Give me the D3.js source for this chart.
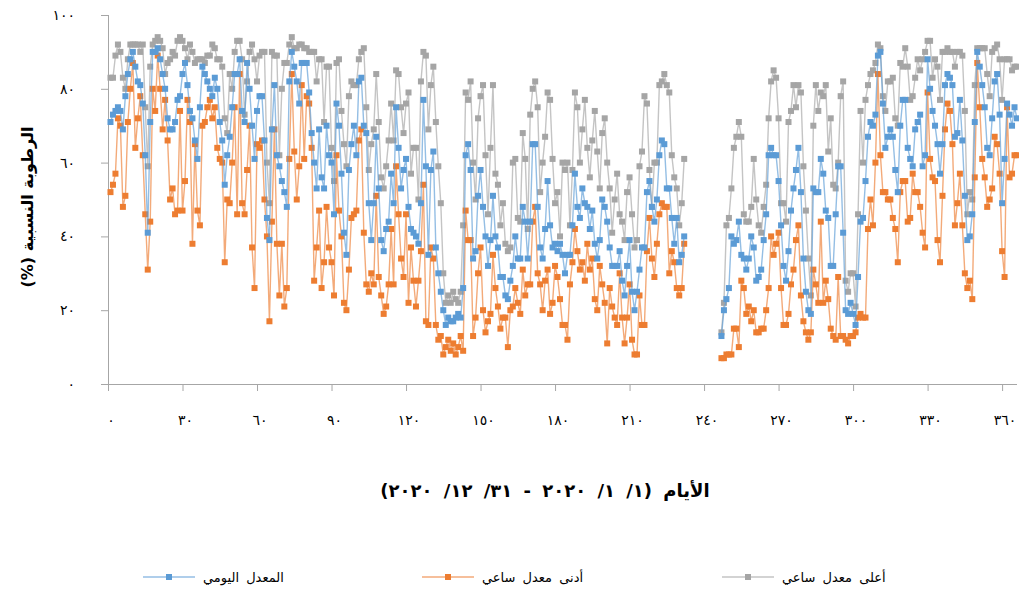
<!DOCTYPE html>
<html>
<head>
<meta charset="utf-8">
<script src="https://cdn.jsdelivr.net/npm/d3@7"></script>
<style>
  body { margin: 0; background: #fff; }
  text { font-family: "DejaVu Sans", sans-serif; fill: #000; }
</style>
</head>
<body>
<svg id="chart" width="1019" height="595"></svg>
<script>
// Day of year, 1 January 2020 = day 1
const days = d3.range(1, 367);

// Daily mean relative humidity (%)
const dailyMean = [
  71, 73, 74, 75, 74, 69, 78, 84, 88, 90,
  86, 82, 81, 76, 62, 41, 71, 90, 90, 91,
  88, 84, 80, 72, 69, 69, 71, 77, 78, 84,
  87, 81, 74, 72, 66, 61, 75, 86, 84, 82,
  80, 78, 83, 80, 71, 66, 54, 62, 67, 75,
  84, 84, 88, 74, 71, 87, 80, 70, 61, 74,
  78, 78, 66, 45, 39, 69, 81, 62, 59, 55,
  52, 48, 82, 90, 86, 82, 76, 87, 87, 87,
  79, 68, 60, 53, 69, 56, 53, 70, 62, 60,
  46, 76, 70, 57, 41, 35, 58, 65, 70, 62,
  82, 83, 70, 68, 49, 39, 49, 67, 53, 39,
  36, 42, 44, 57, 49, 75, 64, 53, 58, 61,
  48, 42, 41, 40, 38, 49, 77, 59, 35, 58,
  63, 37, 30, 25, 20, 16, 18, 17, 17, 18,
  19, 18, 26, 62, 65, 58, 34, 36, 51, 58,
  48, 40, 32, 39, 51, 40, 37, 29, 29, 24,
  23, 28, 32, 40, 34, 34, 48, 44, 34, 44,
  65, 65, 48, 37, 34, 42, 55, 43, 37, 38,
  36, 38, 35, 30, 35, 35, 43, 57, 48, 45,
  53, 49, 48, 42, 47, 38, 34, 39, 50, 48,
  44, 37, 32, 32, 32, 36, 28, 24, 32, 39,
  25, 20, 25, 31, 37, 37, 52, 55, 48, 44,
  50, 62, 66, 65, 53, 53, 45, 38, 45, 33,
  35, 40,
  null, null, null, null, null, null, null, null, null, null, null, null, null, null,
  13, 20, 23, 26,
  40, 38, 39, 44, 35, 34, 31, 34, 40, 37,
  28, 29, 31, 39, 46, 62, 64, 62, 62, 55,
  43, 32, 28, 36, 47, 53, 58, 64, 52, 34,
  25, 20, 19, 53, 52, 52, 61, 57, 47, 45,
  32, 32, 46, 59, 59, 41, 20, 19, 22, 19,
  16, 29, 44, 45, 55, 67, 71, 70, 73, 89,
  90, 76, 64, 67, 69, 67, 58, 52, 70, 77,
  77, 64, 61, 59, 69, 71, 73, 59, 62, 88,
  80, 74, 70, 65, 57, 65, 81, 84, 83, 81,
  67, 68, 77, 66, 51, 39, 40, 46, 71, 90,
  86, 81, 75, 64, 62, 72, 82, 84, 73, 49,
  61, 76, 73, 70, 75, 72
];

// Lowest hourly value of each day (%)
const hourlyMin = [
  52, 54, 57, 72, 70, 48, 51, 71, 80, 87,
  64, 72, 78, 62, 46, 31, 44, 80, 74, 89,
  80, 69, 77, 66, 50, 53, 46, 47, 74, 47,
  55, 77, 71, 38, 65, 47, 43, 70, 71, 75,
  77, 72, 75, 64, 61, 60, 33, 50, 49, 60,
  75, 46, 84, 49, 46, 58, 70, 37, 26, 65,
  64, 66, 50, 40, 17, 44, 69, 38, 24, 38,
  21, 26, 61, 84, 63, 50, 59, 81, 61, 78,
  76, 64, 28, 37, 47, 26, 33, 48, 37, 33,
  24, 62, 47, 40, 22, 20, 31, 45, 46, 47,
  66, 69, 41, 27, 25, 30, 27, 51, 29, 24,
  19, 21, 27, 42, 27, 59, 46, 34, 29, 46,
  22, 37, 28, 21, 28, 36, 54, 17, 16, 37,
  34, 16, 12, 13, 8, 10, 12, 9, 11, 8,
  10, 13, 9, 47, 39, 39, 13, 18, 30, 37,
  20, 14, 17, 19, 35, 26, 21, 15, 18, 18,
  10, 20, 21, 26, 22, 19, 31, 24, 27, 27,
  44, 48, 30, 27, 20, 28, 31, 19, 22, 32,
  29, 23, 16, 16, 12, 27, 33, 42, 36, 31,
  33, 28, 38, 31, 34, 23, 20, 32, 27, 22,
  11, 26, 21, 18, 16, 30, 18, 11, 18, 27,
  12, 8, 8, 24, 16, 16, 36, 45, 34, 29,
  38, 46, 49, 48, 48, 30, 36, 33, 26, 24,
  26, 38,
  null, null, null, null, null, null, null, null, null, null, null, null, null, null,
  7, 7, 8, 8,
  8, 15, 15, 10, 28, 26, 19, 21, 17, 20,
  14, 14, 15, 15, 20, 26, 40, 35, 38, 41,
  26, 16, 16, 19, 27, 31, 39, 43, 24, 17,
  14, 12, 14, 31, 27, 22, 44, 22, 28, 23,
  15, 13, 12, 29, 13, 13, 12, 11, 13, 13,
  14, 18, 19, 18, 18, 42, 50, 43, 60, 84,
  62, 52, 52, 50, 50, 45, 42, 33, 52, 55,
  55, 44, 45, 57, 52, 52, 48, 41, 37, 79,
  61, 56, 55, 39, 33, 51, 69, 76, 74, 65,
  43, 49, 57, 43, 30, 26, 28, 23, 56, 87,
  75, 61, 56, 48, 50, 53, 67, 65, 57, 36,
  29, 75, 56, 57, 62, 62
];

// Highest hourly value of each day (%)
const hourlyMax = [
  83, 83, 89, 92, 90, 83, 80, 88, 92, 92,
  92, 92, 90, 92, 75, 59, 86, 92, 93, 94,
  93, 91, 84, 87, 88, 90, 89, 93, 94, 93,
  91, 88, 92, 90, 87, 88, 88, 88, 87, 89,
  89, 92, 91, 88, 88, 86, 72, 68, 84, 80,
  90, 93, 93, 88, 73, 82, 90, 92, 88, 82,
  89, 90, 90, 60, 49, 90, 89, 89, 62, 80,
  87, 87, 92, 94, 91, 91, 92, 92, 91, 91,
  90, 90, 90, 82, 88, 88, 71, 86, 86, 64,
  55, 87, 88, 74, 65, 59, 78, 82, 81, 81,
  88, 90, 91, 75, 58, 65, 69, 84, 71, 56,
  53, 59, 66, 76, 66, 85, 84, 75, 68, 76,
  79, 57, 64, 64, 50, 82, 90, 89, 69, 81,
  86, 71, 59, 49, 30, 22, 24, 22, 25, 23,
  22, 25, 43, 79, 77, 82, 60, 50, 72, 78,
  81, 62, 46, 64, 81, 57, 54, 43, 49, 38,
  36, 37, 60, 61, 45, 44, 68, 61, 42, 73,
  80, 82, 75, 52, 60, 67, 79, 77, 61, 49,
  52, 40, 60, 58, 60, 43, 58, 79, 75, 60,
  69, 77, 64, 56, 66, 74, 63, 53, 68, 72,
  60, 53, 41, 50, 57, 46, 44, 39, 52, 56,
  46, 37, 39, 59, 63, 78, 76, 58, 48, 60,
  60, 81, 82, 84, 81, 79, 62, 56, 53, 43,
  49, 61,
  null, null, null, null, null, null, null, null, null, null, null, null, null, null,
  14, 22, 43, 45,
  53, 64, 67, 71, 67, 46, 44, 44, 48, 61,
  50, 43, 41, 48, 54, 72, 82, 85, 83, 72,
  49, 49, 44, 71, 74, 81, 75, 81, 79, 59,
  47, 34, 24, 70, 81, 74, 79, 78, 81, 63,
  72, 54, 53, 60, 78, 82, 28, 25, 30, 30,
  21, 46, 74, 60, 77, 81, 84, 85, 87, 92,
  91, 78, 74, 82, 82, 83, 72, 70, 87, 86,
  91, 86, 77, 78, 83, 88, 85, 88, 90, 93,
  93, 83, 88, 86, 77, 90, 90, 91, 90, 90,
  86, 90, 90, 89, 74, 46, 52, 50, 81, 91,
  91, 91, 91, 84, 78, 90, 91, 92, 88, 77,
  88, 88, 88, 85, 86, 86
];

const xTickValues = [0, 30, 60, 90, 120, 150, 180, 210, 240, 270, 300, 330, 360];
const xTickLabels = ["٠", "٣٠", "٦٠", "٩٠", "١٢٠", "١٥٠", "١٨٠", "٢١٠", "٢٤٠", "٢٧٠", "٣٠٠", "٣٣٠", "٣٦٠"];
const yTickValues = [0, 20, 40, 60, 80, 100];
const yTickLabels = ["٠", "٢٠", "٤٠", "٦٠", "٨٠", "١٠٠"];

const seriesNames = ["المعدل اليومي", "أدنى معدل ساعي", "أعلى معدل ساعي"];
const seriesColors = ["#5b9bd5", "#ed7d31", "#a5a5a5"];
const xTitle = "الأيام (١/ ١/ ٢٠٢٠ - ٣١/ ١٢/ ٢٠٢٠)";
const yTitle = "الرطوبة النسبية (%)";

const svg = d3.select("#chart");
const plot = { left: 108, right: 1017, top: 15, bottom: 384 };

const x = d3.scaleLinear().domain([0, 366]).range([plot.left, plot.right]);
const y = d3.scaleLinear().domain([0, 100]).range([plot.bottom, plot.top]);

const axisColor = "#a6a6a6";

// X axis
const xAxis = svg.append("g")
  .attr("transform", `translate(0,${plot.bottom})`)
  .call(d3.axisBottom(x).tickValues(xTickValues).tickSize(7).tickPadding(24)
    .tickFormat((d, i) => xTickLabels[i]));
xAxis.select(".domain").attr("stroke", axisColor).attr("d", `M${plot.left},0.5H${plot.right}`);
xAxis.selectAll(".tick line").attr("stroke", axisColor);
xAxis.selectAll(".tick text")
  .attr("font-size", 14).style("letter-spacing", "5px")
  .attr("dx", "2.5px")
  .attr("font-family", "DejaVu Sans");

// Y axis
const yAxis = svg.append("g")
  .attr("transform", `translate(${plot.left},0)`)
  .call(d3.axisLeft(y).tickValues(yTickValues).tickSize(7).tickPadding(26)
    .tickFormat((d, i) => yTickLabels[i]));
yAxis.select(".domain").attr("stroke", axisColor).attr("d", `M0.5,${plot.bottom}V${plot.top}`);
yAxis.selectAll(".tick line").attr("stroke", axisColor);
yAxis.selectAll(".tick text")
  .attr("font-size", 14).style("letter-spacing", "5px")
  .attr("font-family", "DejaVu Sans");

// Series: drawn max first, then min, then mean on top
const series = [
  { values: hourlyMax, color: seriesColors[2] },
  { values: hourlyMin, color: seriesColors[1] },
  { values: dailyMean, color: seriesColors[0] }
];

const line = d3.line()
  .defined(d => d.v !== null)
  .x(d => x(d.day))
  .y(d => y(d.v));

const markerSize = 6;

series.forEach(s => {
  const pts = days.map((day, i) => ({ day, v: s.values[i] }));
  const g = svg.append("g");
  g.append("path")
    .datum(pts)
    .attr("fill", "none")
    .attr("stroke", s.color)
    .attr("stroke-width", 1.4)
    .attr("stroke-opacity", 0.65)
    .attr("d", line);
  g.selectAll("rect")
    .data(pts.filter(p => p.v !== null))
    .join("rect")
    .attr("x", d => x(d.day) - markerSize / 2)
    .attr("y", d => y(d.v) - markerSize / 2)
    .attr("width", markerSize)
    .attr("height", markerSize)
    .attr("fill", s.color);
});

// Axis titles
svg.append("text")
  .attr("x", 545).attr("y", 497)
  .attr("text-anchor", "middle")
  .attr("direction", "rtl")
  .attr("font-size", 18).attr("font-weight", "bold")
  .style("word-spacing", "5px")
  .text(xTitle);

svg.append("text")
  .attr("transform", "translate(33,207) rotate(-90)")
  .attr("text-anchor", "middle")
  .attr("direction", "rtl")
  .attr("font-size", 16).attr("font-weight", "bold")
  .text(yTitle);

// Legend
const legendItems = [
  { name: seriesNames[0], color: seriesColors[0], x1: 143 },
  { name: seriesNames[1], color: seriesColors[1], x1: 422 },
  { name: seriesNames[2], color: seriesColors[2], x1: 722 }
];
const legendY = 577;
const legend = svg.append("g");
legendItems.forEach(it => {
  legend.append("line")
    .attr("x1", it.x1).attr("x2", it.x1 + 52)
    .attr("y1", legendY).attr("y2", legendY)
    .attr("stroke", it.color).attr("stroke-width", 1.4).attr("stroke-opacity", 0.65);
  legend.append("rect")
    .attr("x", it.x1 + 26 - 3).attr("y", legendY - 3)
    .attr("width", 6).attr("height", 6)
    .attr("fill", it.color);
  legend.append("text")
    .attr("x", it.x1 + 60).attr("y", legendY + 5)
    .attr("font-size", 13)
    .style("word-spacing", "3px")
    .text(it.name);
});
</script>
</body>
</html>
